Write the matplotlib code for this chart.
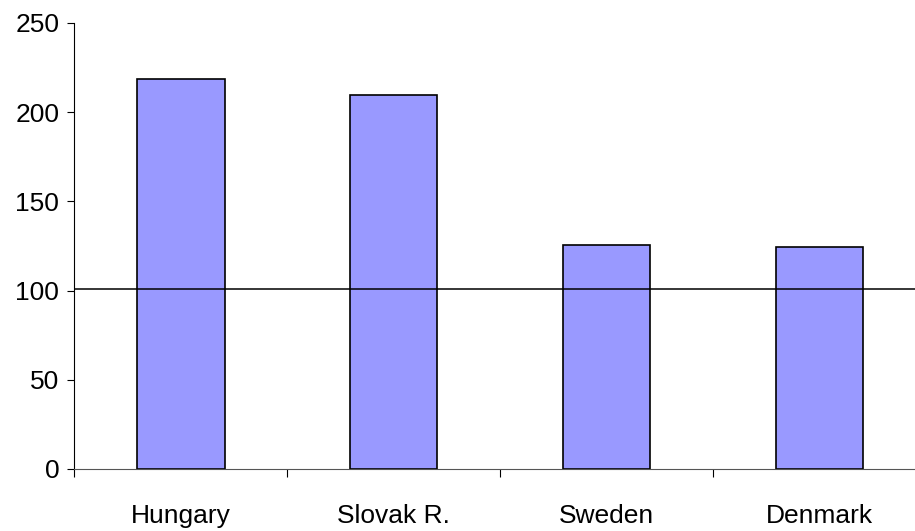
import numpy as np
import matplotlib.pyplot as plt

countries = ['Hungary', 'Slovak R.', 'Sweden', 'Denmark']
values = [218.5, 209.5, 125.5, 124.3]
reference = 101
yticks = [0, 50, 100, 150, 200, 250]

plt.rcParams['font.family'] = ['Liberation Sans', 'DejaVu Sans']

fig = plt.figure(figsize=(9.15, 5.31), dpi=100)
ax = fig.add_axes([0.0814, 0.1168, 0.9306, 0.84])

x = np.arange(len(countries))
ax.bar(x, values, width=0.41, color='#9999ff', edgecolor='black', linewidth=1.2, zorder=2)
ax.axhline(reference, color='black', linewidth=1.1, zorder=3)

ax.set_xlim(-0.5, len(countries) - 0.5)
ax.set_ylim(0, 250)
ax.set_yticks(yticks)
ax.tick_params(axis='y', length=5, width=0.8, pad=6, labelsize=19)

# category ticks sit on the boundaries, labels in the middle
ax.set_xticks(np.arange(len(countries) + 1) - 0.5)
ax.set_xticklabels([])
ax.set_xticks(x, minor=True)
ax.set_xticklabels(countries, minor=True, fontsize=19)
ax.tick_params(axis='x', which='major', length=6, width=0.8)
ax.tick_params(axis='x', which='minor', length=0, pad=25)

for s in ['top', 'right']:
    ax.spines[s].set_visible(False)
ax.spines['left'].set_linewidth(0.8)
ax.spines['bottom'].set_linewidth(0.8)
ax.spines['bottom'].set_color('#555555')

fig.savefig('out.png', dpi=100)
